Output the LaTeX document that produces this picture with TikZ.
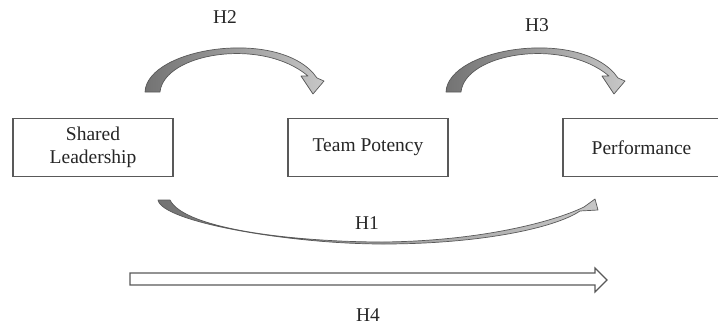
\documentclass[tikz,border=0pt]{standalone}
\usepackage{fontspec}
\setmainfont{Liberation Serif}
\begin{document}
\begin{tikzpicture}[x=1pt,y=-1pt,
  box/.style={draw=black!65, line width=1.3pt, fill=white, minimum height=58pt,
    inner sep=0pt, align=center, font=\rmfamily\fontsize{19.5}{23}\selectfont, text=black!85},
  hlabel/.style={font=\rmfamily\fontsize{19.5}{23}\selectfont, text=black!85, inner sep=0pt},
  blockfill/.style={left color=black!55, right color=black!22, draw=black!65, line width=0.7pt, line join=round},
  hollow/.style={draw=black!65, fill=white, line width=1.2pt, line join=miter},
  bigcurve/.pic={
    \shade[blockfill] (145,92) .. controls (147,47) and (282,27) .. (317,78)
      -- (324,81) -- (313,94) -- (301,76) -- (308,76)
      .. controls (262,37) and (164,53) .. (160,92) -- cycle;
  }
]
\useasboundingbox (0,0) rectangle (718,325);
% boxes
\node[box, minimum width=160pt] (sl) at (93,147.5) {Shared\\Leadership};
\node[box, minimum width=160pt] (tp) at (368,147.5) {Team Potency};
\node[box, minimum width=157pt] (pf) at (641.5,147.5) {Performance};
% H2 and H3 curved block arrows
\pic (h2) at (0,0) {bigcurve};
\pic (h3) at (301,0) {bigcurve};
\node[hlabel] (l2) at (225,17) {H2};
\node[hlabel] (l3) at (537,25) {H3};
% H1 lower curved arrow
\shade[blockfill] (158,200) .. controls (162,222) and (290,244) .. (383,244)
  .. controls (480,244) and (555,228) .. (580,211)
  -- (598,210) -- (595,199) -- (584,207)
  .. controls (553,222) and (480,241) .. (383,242)
  .. controls (300,242) and (185,230) .. (170,200) -- cycle;
\node[hlabel] (l1) at (367,223) {H1};
% H4 hollow block arrow
\draw[hollow] (130,273) -- (595,273) -- (595,268) -- (607,280) -- (595,292)
  -- (595,285) -- (130,285) -- cycle;
\node[hlabel] (l4) at (368,315) {H4};
\end{tikzpicture}
\end{document}
